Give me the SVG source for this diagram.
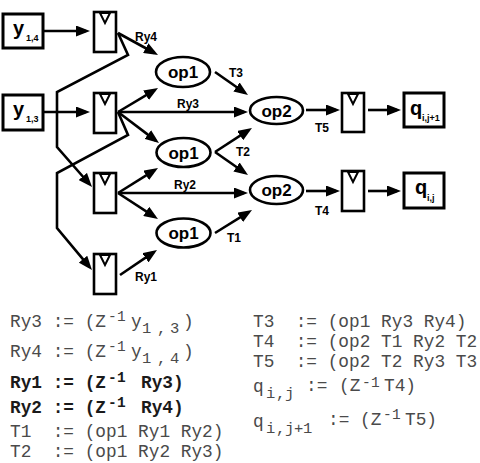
<svg xmlns="http://www.w3.org/2000/svg" width="480" height="463" viewBox="0 0 480 463">
<style>
.ln{fill:none;stroke:#000;stroke-width:2.6;stroke-linejoin:miter}
.ar{marker-end:url(#ah)}
.box{fill:#fff;stroke:#000;stroke-width:3}
.reg{fill:#fff;stroke:#000;stroke-width:2.6}
.tri{fill:#fff;stroke:#000;stroke-width:2;stroke-linejoin:miter}
.op{fill:#fff;stroke:#000;stroke-width:2.6}
.lbl{font-family:"Liberation Sans",Arial,sans-serif;font-weight:bold;font-size:12px;fill:#000;text-anchor:middle}
.opt{font-family:"Liberation Sans",Arial,sans-serif;font-weight:bold;font-size:17px;fill:#000;text-anchor:middle}
.bl{font-family:"Liberation Sans",Arial,sans-serif;font-weight:bold;font-size:20px;fill:#000}
.bs{font-size:9px}
.code{font-family:"Liberation Mono","Courier New",monospace;font-size:17.8px;fill:#4a4a4a;white-space:pre}
.cb{font-weight:bold;fill:#1a1a1a}
.sm{font-size:15.5px}
.sp{font-size:14.5px}
</style>
<defs>
<marker id="ah" markerUnits="userSpaceOnUse" markerWidth="14" markerHeight="11" viewBox="0 0 14 11" refX="10" refY="5.5" orient="auto">
<path d="M0,0 L14,5.5 L0,11 z" fill="#000"/>
</marker>
</defs>

<g id="connectors">
<line class="ln ar" x1="43" y1="31" x2="86" y2="31"/>
<line class="ln ar" x1="43" y1="112" x2="86" y2="112"/>
<line class="ln ar" x1="118" y1="33" x2="154.5" y2="53"/>
<polyline class="ln ar" points="118,33 128,55 57,92 57,147 89.4,184"/>
<polyline class="ln ar" points="118,112 128,135 57,173 57,228 89.4,266.9"/>
<line class="ln ar" x1="118" y1="112" x2="154.6" y2="90.1"/>
<line class="ln ar" x1="118" y1="112" x2="244" y2="112"/>
<line class="ln ar" x1="118" y1="112" x2="155.8" y2="140.6"/>
<line class="ln ar" x1="118" y1="193" x2="154.6" y2="170.1"/>
<line class="ln ar" x1="118" y1="193" x2="244" y2="193"/>
<line class="ln ar" x1="118" y1="193" x2="154.6" y2="216.8"/>
<line class="ln ar" x1="120" y1="275" x2="153.7" y2="252.2"/>
<line class="ln ar" x1="215" y1="72" x2="244.7" y2="92.7"/>
<line class="ln ar" x1="215" y1="152" x2="248.6" y2="130.2"/>
<line class="ln ar" x1="215" y1="152" x2="244.7" y2="172.7"/>
<line class="ln ar" x1="215" y1="233" x2="248.6" y2="212.1"/>
<line class="ln ar" x1="306" y1="110" x2="336" y2="110"/>
<line class="ln ar" x1="368" y1="110" x2="397" y2="110"/>
<line class="ln ar" x1="306" y1="191" x2="336" y2="191"/>
<line class="ln ar" x1="368" y1="191" x2="397" y2="191"/>
<text class="lbl" x="146" y="41">Ry4</text>
<text class="lbl" x="188" y="108">Ry3</text>
<text class="lbl" x="185" y="189">Ry2</text>
<text class="lbl" x="146" y="281">Ry1</text>
<text class="lbl" x="236" y="77">T3</text>
<text class="lbl" x="243" y="156">T2</text>
<text class="lbl" x="234" y="242">T1</text>
<text class="lbl" x="322" y="132">T5</text>
<text class="lbl" x="322" y="215">T4</text>
</g>

<g id="y14">
<rect class="box" x="3" y="14" width="40" height="34"/>
<text class="bl" x="13" y="35">y<tspan class="bs" x="26" y="41">1,4</tspan></text>
</g>
<g id="y13">
<rect class="box" x="3" y="95" width="40" height="35"/>
<text class="bl" x="13" y="116">y<tspan class="bs" x="26" y="122">1,3</tspan></text>
</g>

<g id="reg1">
<rect class="reg" x="94" y="12" width="22" height="40"/>
<polygon class="tri" points="100,13 110,13 105,23"/>
</g>
<g id="reg2">
<rect class="reg" x="94" y="93" width="22" height="40"/>
<polygon class="tri" points="100,94 110,94 105,104"/>
</g>
<g id="reg3">
<rect class="reg" x="94" y="173" width="22" height="40"/>
<polygon class="tri" points="100,174 110,174 105,184"/>
</g>
<g id="reg4">
<rect class="reg" x="94" y="254" width="22" height="40"/>
<polygon class="tri" points="100,255 110,255 105,265"/>
</g>
<g id="reg5">
<rect class="reg" x="342" y="93" width="22" height="39"/>
<polygon class="tri" points="348,94 358,94 353,104"/>
</g>
<g id="reg6">
<rect class="reg" x="342" y="171" width="22" height="40"/>
<polygon class="tri" points="348,172 358,172 353,182"/>
</g>

<g id="op1a">
<ellipse class="op" cx="183" cy="72" rx="27" ry="15"/>
<text class="opt" x="183" y="78">op1</text>
</g>
<g id="op1b">
<ellipse class="op" cx="183.5" cy="152.5" rx="27" ry="14.5"/>
<text class="opt" x="183.5" y="158.5">op1</text>
</g>
<g id="op1c">
<ellipse class="op" cx="183.5" cy="233" rx="27" ry="14.5"/>
<text class="opt" x="183.5" y="239">op1</text>
</g>
<g id="op2a">
<ellipse class="op" cx="276.5" cy="110.5" rx="26.5" ry="13.5"/>
<text class="opt" x="276.5" y="116.5">op2</text>
</g>
<g id="op2b">
<ellipse class="op" cx="276.5" cy="190" rx="26.5" ry="14"/>
<text class="opt" x="276.5" y="196">op2</text>
</g>

<g id="qij1">
<rect class="box" x="404" y="93" width="40" height="34"/>
<text class="bl" x="410" y="115">q<tspan class="bs" x="422" y="121">i,j+1</tspan></text>
</g>
<g id="qij">
<rect class="box" x="404" y="173" width="40" height="35"/>
<text class="bl" x="415" y="194">q<tspan class="bs" x="427" y="201">i,j</tspan></text>
</g>

<g id="code">
<text class="code" xml:space="preserve" y="327"><tspan x="10">Ry3 := (Z</tspan><tspan class="sp" x="108 117" y="321">-1</tspan><tspan x="131" y="327">y</tspan><tspan class="sm" x="142 157 170" y="333">1,3</tspan><tspan x="183" y="327">)</tspan></text>
<text class="code" xml:space="preserve" y="357"><tspan x="10">Ry4 := (Z</tspan><tspan class="sp" x="108 117" y="351">-1</tspan><tspan x="131" y="357">y</tspan><tspan class="sm" x="142 157 170" y="363">1,4</tspan><tspan x="183" y="357">)</tspan></text>
<text class="code cb" xml:space="preserve" y="388"><tspan x="10">Ry1 := (Z</tspan><tspan class="sp" x="108 117" y="382">-1</tspan><tspan x="141" y="388">Ry3)</tspan></text>
<text class="code cb" xml:space="preserve" y="413"><tspan x="10">Ry2 := (Z</tspan><tspan class="sp" x="108 117" y="407">-1</tspan><tspan x="141" y="413">Ry4)</tspan></text>
<text class="code" xml:space="preserve" x="10" y="437">T1  := (op1 Ry1 Ry2)</text>
<text class="code" xml:space="preserve" x="10" y="457">T2  := (op1 Ry2 Ry3)</text>
<text class="code" xml:space="preserve" x="253" y="327">T3  := (op1 Ry3 Ry4)</text>
<text class="code" xml:space="preserve" x="253" y="347">T4  := (op2 T1 Ry2 T2</text>
<text class="code" xml:space="preserve" x="253" y="367">T5  := (op2 T2 Ry3 T3</text>
<text class="code" xml:space="preserve" y="391"><tspan x="253" y="392">q</tspan><tspan class="sm" x="266 276 285" y="398">i,j</tspan><tspan x="306" y="391">:=</tspan><tspan x="339">(Z</tspan><tspan class="sp" x="362 371" y="386.5">-1</tspan><tspan x="384" y="391">T4)</tspan></text>
<text class="code" xml:space="preserve" y="425"><tspan x="253" y="427">q</tspan><tspan class="sm" x="266 276 285 294 303" y="433">i,j+1</tspan><tspan x="328" y="425">:=</tspan><tspan x="360">(Z</tspan><tspan class="sp" x="383 392" y="419">-1</tspan><tspan x="405" y="425">T5)</tspan></text>
</g>
</svg>
